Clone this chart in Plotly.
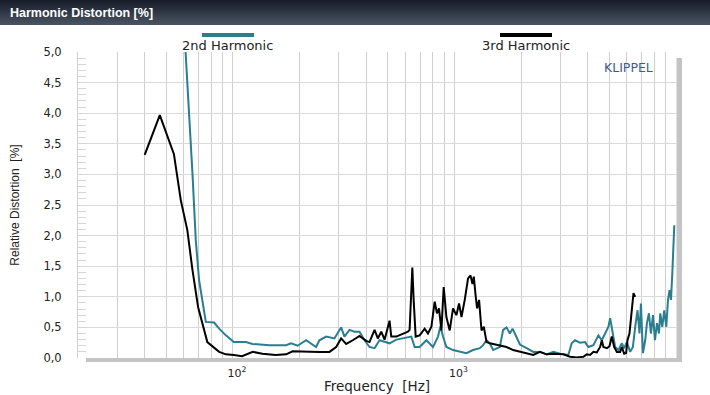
import plotly.graph_objects as go

# ---------------- data ----------------
freq_h2 = [59.0, 61.3, 63.4, 65.7, 68.0, 70.4, 75.5, 82.3, 86.7, 93, 101, 114.5, 122.7, 146, 173.8, 183, 196, 214, 237.5,
           245.8, 263.5, 287.3, 308, 318.9, 335.9, 353.9, 372.8, 392.8, 413.7, 436, 459.2, 483.8, 509.5, 546.6, 585.5,
           638.9, 661.4, 696.6, 747, 800.2, 843, 864.5, 888.2, 920, 985.6, 1057, 1133, 1214, 1302, 1347, 1396, 1445,
           1495, 1603, 1659, 1719, 1779, 1830, 1908, 1975, 2118, 2268, 2432, 2608, 2794, 2996, 3266, 3383, 3502, 3690,
           3887, 4023, 4238, 4465, 4626, 4786, 4955, 5044, 5187, 5313, 5500, 5697, 5835, 6001, 6211, 6389, 6544, 6703,
           6844, 6945, 7091, 7263, 7393, 7548, 7707, 7869, 8035, 8204, 8378, 8492, 8670, 8851, 9039, 9201, 9354, 9493,
           9623, 9752, 9824]
h2_pct = [6.0, 4.98, 4.10, 3.02, 1.93, 1.27, 0.59, 0.58, 0.48, 0.37, 0.26, 0.26, 0.23, 0.21, 0.21, 0.24, 0.20, 0.29, 0.18,
          0.29, 0.35, 0.32, 0.50, 0.35, 0.46, 0.43, 0.43, 0.29, 0.18, 0.16, 0.29, 0.26, 0.24, 0.30, 0.32,
          0.35, 0.18, 0.18, 0.29, 0.18, 0.35, 0.52, 0.35, 0.18, 0.13, 0.10, 0.08, 0.13, 0.16, 0.21, 0.29, 0.24,
          0.13, 0.18, 0.46, 0.50, 0.40, 0.48, 0.32, 0.22, 0.16, 0.10, 0.10, 0.06, 0.10, 0.07, 0.05, 0.24, 0.29, 0.25,
          0.26, 0.18, 0.21, 0.37, 0.29, 0.40, 0.51, 0.65, 0.40, 0.18, 0.13, 0.24, 0.16, 0.26, 0.10, 0.18, 0.51, 0.78,
          0.40, 0.89, 0.08, 0.29, 0.57, 0.73, 0.40, 0.70, 0.29, 0.57, 0.40, 0.73, 0.51, 0.78, 0.51, 0.95, 1.11, 0.95,
          1.38, 1.76, 2.17]

freq_h3 = [40.0, 46.8, 54.2, 58.2, 62.3, 65.7, 69.7, 76.7, 86.7, 93, 101, 110, 123, 136, 156, 174, 186, 214, 246,
           272.8, 292.5, 308, 324.6, 347.7, 372.8, 399.7, 413.7, 436, 451, 467.5, 483.8, 509.5, 518.6, 546.6, 596,
           616.6, 627.6, 645.7, 654.5, 668.4, 696.6, 733.8, 759.5, 787, 814.5, 834.2, 851.7, 873.4, 894.5, 920, 952,
           985.6, 1021, 1049, 1076, 1113, 1152, 1182, 1206, 1223, 1248, 1266, 1292, 1325, 1357, 1396, 1445, 1495,
           1603, 1719, 1842, 1975, 2118, 2268, 2432, 2608, 2794, 3099, 3325, 3565, 3818, 3957, 4095, 4238, 4391,
           4545, 4626, 4703, 4873, 5006, 5133, 5257, 5408, 5597, 5697, 5835, 5957, 6039, 6166, 6277, 6429, 6544]
h3_pct = [3.32, 3.97, 3.33, 2.58, 2.09, 1.44, 0.83, 0.26, 0.10, 0.06, 0.05, 0.03, 0.10, 0.07, 0.05, 0.06, 0.11, 0.10, 0.10,
          0.10, 0.18, 0.32, 0.23, 0.29, 0.36, 0.28, 0.26, 0.46, 0.32, 0.43, 0.30, 0.61, 0.35, 0.35, 0.41,
          0.43, 0.46, 1.48, 0.95, 0.35, 0.37, 0.48, 0.40, 0.51, 0.92, 0.73, 0.81, 0.45, 1.16, 0.67, 0.45,
          0.81, 0.70, 0.89, 0.67, 0.95, 1.30, 1.35, 1.21, 1.33, 1.00, 0.81, 0.95, 0.45, 0.51, 0.26, 0.24, 0.23,
          0.21, 0.18, 0.13, 0.10, 0.07, 0.05, 0.10, 0.06, 0.07, 0.06, 0.02, 0.01, 0.02, 0.06, 0.05, 0.10, 0.09,
          0.18, 0.29, 0.18, 0.16, 0.19, 0.35, 0.18, 0.10, 0.10, 0.18, 0.07, 0.08, 0.29, 0.40, 0.67, 1.06, 1.00]

series_names = ["2nd Harmonic", "3rd Harmonic"]
series_colors = ["#2b7d90", "#000000"]
y_ticks = [0.0, 0.5, 1.0, 1.5, 2.0, 2.5, 3.0, 3.5, 4.0, 4.5, 5.0]
x_tick_vals = [100, 1000]
x_tick_text = ["10<sup>2</sup>", "10<sup>3</sup>"]
x_grid_vals = [30, 40, 50, 60, 70, 80, 90, 100, 200, 300, 400, 500, 600, 700, 800, 900,
               1000, 2000, 3000, 4000, 5000, 6000, 7000, 8000, 9000]

# ---------------- figure ----------------
fig = go.Figure()
fig.add_trace(go.Scatter(x=freq_h2, y=h2_pct, mode="lines", name=series_names[0],
                         line=dict(color=series_colors[0], width=2)))
fig.add_trace(go.Scatter(x=freq_h3, y=h3_pct, mode="lines", name=series_names[1],
                         line=dict(color=series_colors[1], width=2)))

W, H = 710, 395
L, R, T, B = 78, 34, 52, 37
pw = W - L - R
ph = H - T - B


def px_x(x):
    return (x - L) / pw


def px_y(y):
    return (H - B - y) / ph


shapes = []
# title bar gradient (dark top -> lighter bottom)
top_c = (24, 29, 42)
bot_c = (74, 84, 97)
bar_h = 25
shapes.append(dict(type="rect", xref="paper", yref="paper", layer="above",
                   x0=px_x(-2), x1=px_x(W + 2), y0=px_y(bar_h), y1=px_y(-2),
                   line=dict(width=0), fillcolor="rgb(%d,%d,%d)" % top_c))
for i in range(1, bar_h):
    t = i / (bar_h - 1)
    c = tuple(int(top_c[k] + (bot_c[k] - top_c[k]) * t) for k in range(3))
    shapes.append(dict(type="rect", xref="paper", yref="paper", layer="above",
                       x0=px_x(-2), x1=px_x(W + 2), y0=px_y(bar_h), y1=px_y(i),
                       line=dict(width=0), fillcolor="rgb(%d,%d,%d)" % c))
# drop shadow of plot frame
shapes.append(dict(type="rect", xref="paper", yref="paper", layer="below",
                   x0=px_x(86), x1=px_x(682), y0=px_y(362), y1=px_y(358),
                   line=dict(width=0), fillcolor="#c4c4c4"))
shapes.append(dict(type="rect", xref="paper", yref="paper", layer="below",
                   x0=px_x(676.5), x1=px_x(682), y0=px_y(362), y1=px_y(58),
                   line=dict(width=0), fillcolor="#c4c4c4"))
# legend bars
shapes.append(dict(type="rect", xref="paper", yref="paper", layer="above",
                   x0=px_x(202), x1=px_x(254), y0=px_y(37), y1=px_y(33),
                   line=dict(width=0), fillcolor=series_colors[0]))
shapes.append(dict(type="rect", xref="paper", yref="paper", layer="above",
                   x0=px_x(500), x1=px_x(552), y0=px_y(37), y1=px_y(33),
                   line=dict(width=0), fillcolor=series_colors[1]))

annotations = [
    dict(text="<b>Harmonic Distortion [%]</b>", xref="paper", yref="paper",
         x=px_x(8), y=px_y(12.5), xanchor="left", yanchor="middle", showarrow=False,
         font=dict(family="Liberation Sans, Arial", size=12.5, color="white")),
    dict(text=series_names[0], xref="paper", yref="paper", x=px_x(227), y=px_y(45.5),
         xanchor="center", yanchor="middle", showarrow=False,
         font=dict(family="DejaVu Sans", size=13, color="#222")),
    dict(text=series_names[1], xref="paper", yref="paper", x=px_x(526), y=px_y(45.5),
         xanchor="center", yanchor="middle", showarrow=False,
         font=dict(family="DejaVu Sans", size=13, color="#222")),
    dict(text="KLIPPEL", xref="paper", yref="paper", x=px_x(628), y=px_y(67),
         xanchor="center", yanchor="middle", showarrow=False,
         font=dict(family="DejaVu Sans", size=12.5, color="#3b5b8c")),
]

fig.update_layout(
    width=W, height=H,
    margin=dict(l=L, r=R, t=T, b=B, pad=0, autoexpand=False),
    paper_bgcolor="white", plot_bgcolor="white",
    showlegend=False,
    separators=",.",
    shapes=shapes, annotations=annotations,
    font=dict(family="DejaVu Sans", size=11, color="#222"),
)
fig.update_xaxes(
    type="log", range=[1.30103, 4.0], tickvals=x_tick_vals, ticktext=x_tick_text,
    showgrid=False, zeroline=False, showline=False, ticks="",
    automargin=False,
    ticklabelstandoff=7, ticklabelshift=4,
    tickfont=dict(family="DejaVu Sans", size=11, color="#222"),
    title=dict(text="Frequency  [Hz]", standoff=2,
               font=dict(family="DejaVu Sans", size=13.5, color="#222")),
    minor=dict(tickvals=x_grid_vals, showgrid=True, gridcolor="#cfcfcf", gridwidth=1),
)
fig.update_yaxes(
    range=[0, 5], tickvals=y_ticks, tickformat=".1f",
    showgrid=True, gridcolor="#dadada", gridwidth=1,
    zeroline=False, showline=True, linecolor="#d0d0d0", linewidth=1,
    ticks="inside", ticklen=8, tickcolor="#d6d6d6",
    automargin=False,
    ticklabelstandoff=13,
    tickfont=dict(family="DejaVu Sans", size=11.5, color="#222"),
    title=dict(text="Relative Distortion  [%]", standoff=21,
               font=dict(family="Liberation Sans Narrow, Liberation Sans", size=12, color="#222")),
    minor=dict(dtick=0.1, ticks="inside", ticklen=8, tickcolor="#d6d6d6", showgrid=False),
)

fig.write_html("out.html")
